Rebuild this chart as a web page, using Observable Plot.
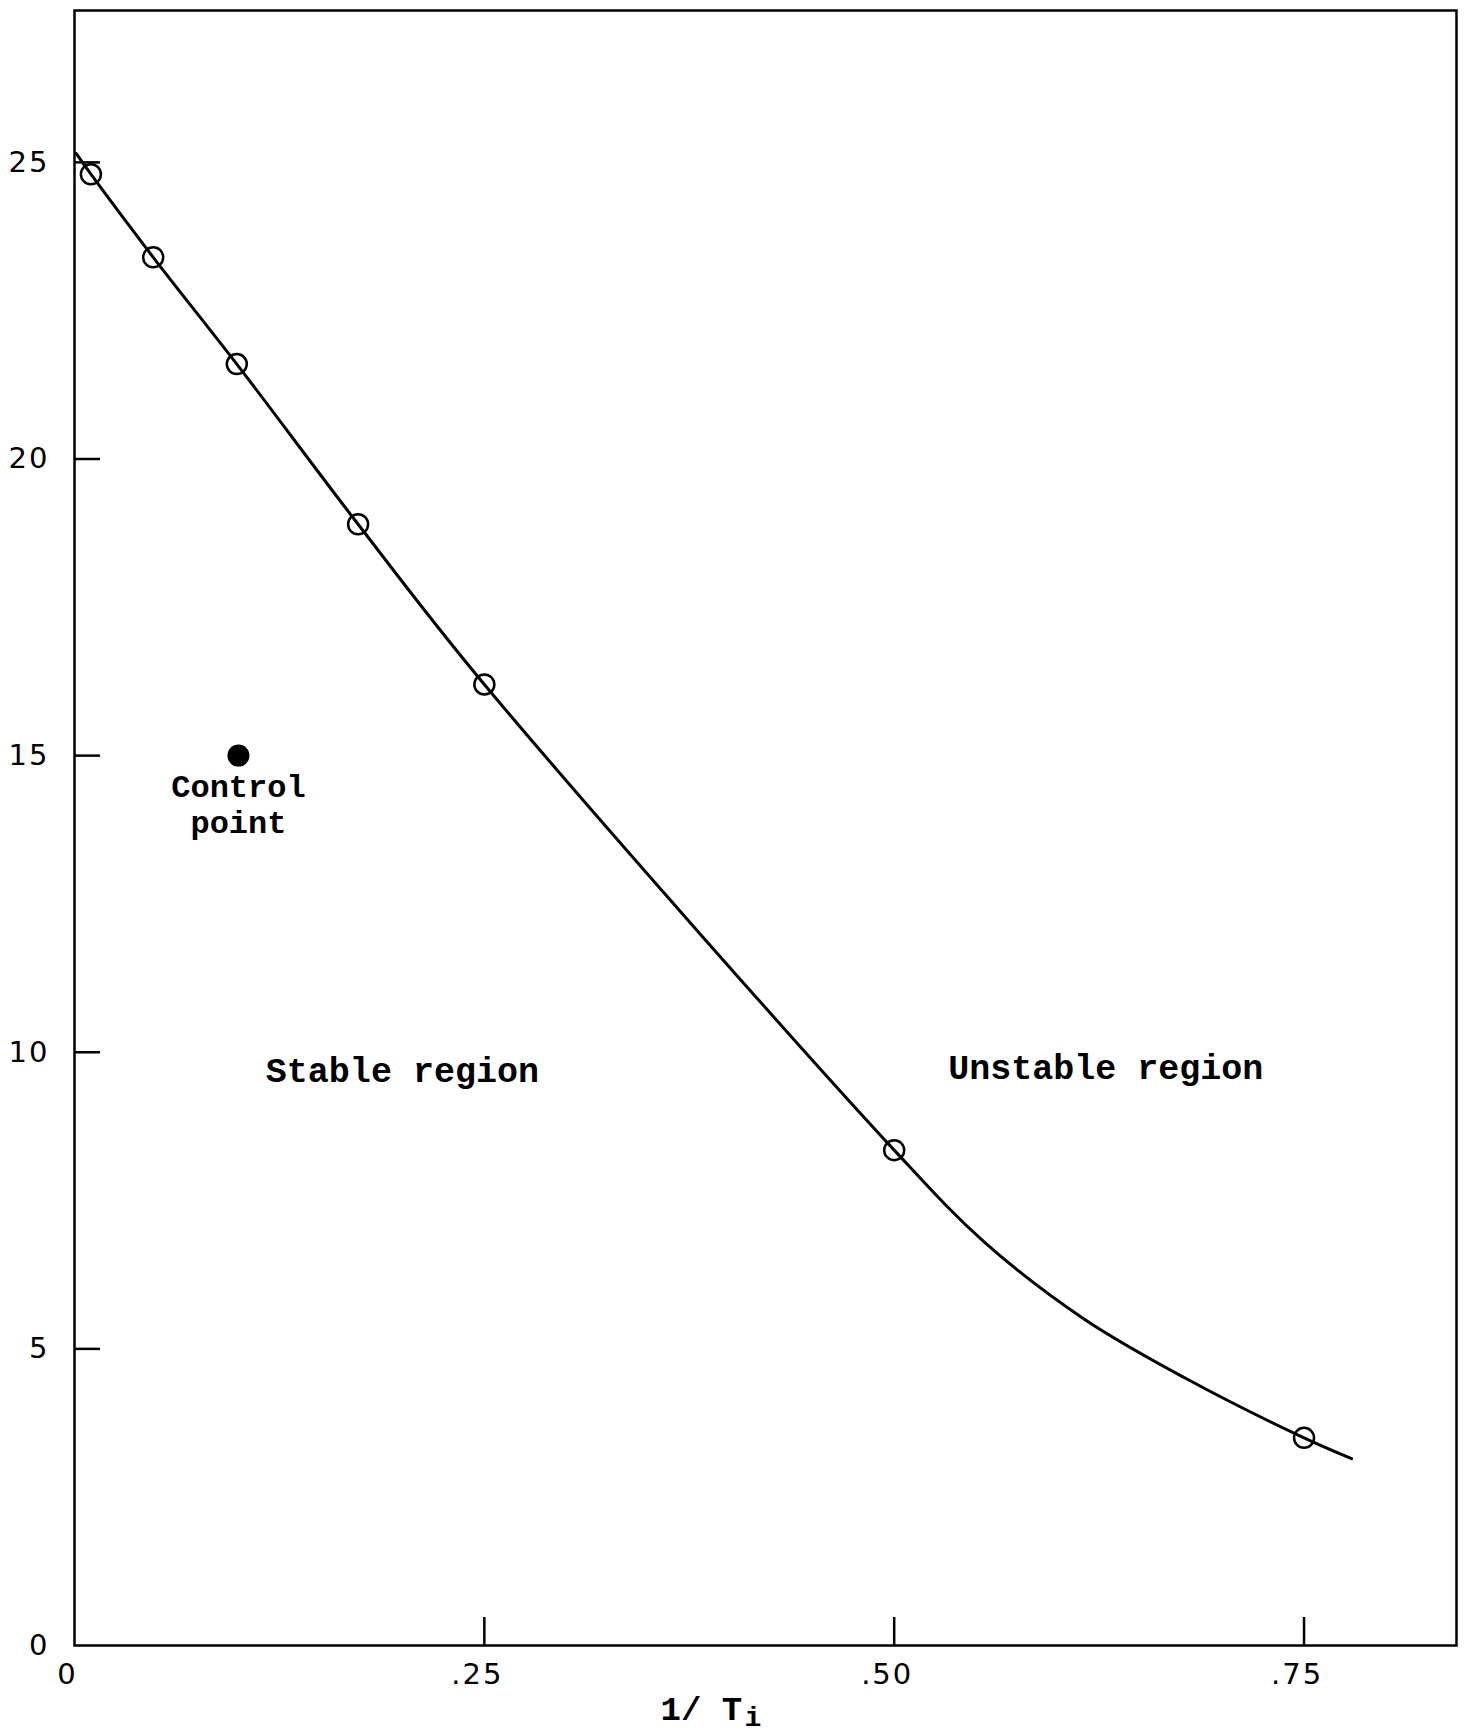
<!DOCTYPE html>
<html>
<head>
<meta charset="utf-8">
<script src="https://cdn.jsdelivr.net/npm/d3@7"></script>
<script src="https://cdn.jsdelivr.net/npm/@observablehq/plot@0.6"></script>
<style>
  html, body { margin: 0; padding: 0; background: #fff; }
  #chart svg { display: block; }
  #chart g[aria-label="y-axis tick label"] text,
  #chart g[aria-label="x-axis tick label"] text { letter-spacing: 2px; }
</style>
</head>
<body>
<div id="chart"></div>
<script>
// ---- data ----
const xTicks = [0, 0.25, 0.5, 0.75];
const yTicks = [0, 5, 10, 15, 20, 25];
const innerYTicks = [5, 10, 15, 20, 25];
const innerXTicks = [0.25, 0.5, 0.75];

// measured (open circle) points
const pointX = [0.01, 0.048, 0.099, 0.173, 0.25, 0.5, 0.75];
const pointY = [24.8, 23.4, 21.6, 18.9, 16.2, 8.35, 3.5];

// stability boundary curve
const curveX = [0.001, 0.01, 0.048, 0.099, 0.173, 0.25, 0.5, 0.555, 0.616, 0.678, 0.75, 0.779];
const curveY = [25.15, 24.8, 23.4, 21.6, 18.9, 16.2, 8.35, 6.8, 5.5, 4.5, 3.5, 3.15];

// control point
const controlX = [0.1];
const controlY = [15];
const controlText = ["Control\npoint"];

// region labels
const regionText = ["Stable region", "Unstable region"];
const regionX = [0.2, 0.629];
const regionY = [9.5, 9.55];

const xLabelMain = "1/ T";
const xLabelSub = "i";

// ---- build tables ----
const points = pointX.map((x, i) => ({x, y: pointY[i]}));
const curve = curveX.map((x, i) => ({x, y: curveY[i]}));
const control = controlX.map((x, i) => ({x, y: controlY[i], t: controlText[i]}));
const regions = regionText.map((t, i) => ({t, x: regionX[i], y: regionY[i]}));

const W = 1467, H = 1733;
const mL = 74, mR = 11, mT = 10, mB = 88;
const frameW = W - mL - mR, frameH = H - mT - mB;
const typeFont = "Liberation Mono";
const tickFont = "DejaVu Sans";

const fmtX = d => d === 0 ? "0" : d3.format(".2f")(d).slice(1);
const fmtY = d => String(d);

const chart = Plot.plot({
  width: W,
  height: H,
  marginLeft: mL,
  marginRight: mR,
  marginTop: mT,
  marginBottom: mB,
  style: {background: "#fff", color: "#000"},
  x: {domain: [0, 0.843], label: null},
  y: {domain: [0, 27.56], label: null},
  marks: [
    Plot.frame({stroke: "#000", strokeWidth: 2.5}),
    Plot.tickY(innerYTicks, {y: d => d, stroke: "#000", strokeWidth: 2.5, insetRight: frameW - 26}),
    Plot.tickX(innerXTicks, {x: d => d, stroke: "#000", strokeWidth: 2.5, insetTop: frameH - 28}),
    Plot.axisY(yTicks, {tickSize: 0, tickPadding: 25, fontSize: 29, fontFamily: tickFont, tickFormat: fmtY, label: null}),
    Plot.axisX(xTicks, {tickSize: 0, tickPadding: 18, fontSize: 29, fontFamily: tickFont, tickFormat: fmtX, dx: -7, label: null}),
    Plot.line(curve, {x: "x", y: "y", curve: "catmull-rom", stroke: "#000", strokeWidth: 3}),
    Plot.dot(points, {x: "x", y: "y", r: 10, stroke: "#000", strokeWidth: 2.5, fill: "none"}),
    Plot.dot(control, {x: "x", y: "y", r: 11, fill: "#000", stroke: "none"}),
    Plot.text(control, {x: "x", y: "y", text: "t", lineAnchor: "top", dy: 16, lineHeight: 1.12,
      fontSize: 32, fontWeight: "bold", fontFamily: typeFont, fill: "#000"}),
    Plot.text(regions, {x: "x", y: "y", text: "t", lineAnchor: "bottom",
      fontSize: 35, fontWeight: "bold", fontFamily: typeFont, fill: "#000"}),
    Plot.text([xLabelMain], {text: d => d, frameAnchor: "bottom", textAnchor: "start", lineAnchor: "bottom",
      dx: -105, dy: 74, fontSize: 34, fontWeight: "bold", fontFamily: typeFont, fill: "#000"}),
    Plot.text([xLabelSub], {text: d => d, frameAnchor: "bottom", textAnchor: "start", lineAnchor: "bottom",
      dx: -21, dy: 80, fontSize: 28, fontWeight: "bold", fontFamily: typeFont, fill: "#000"})
  ]
});
document.getElementById("chart").appendChild(chart);
</script>
</body>
</html>
